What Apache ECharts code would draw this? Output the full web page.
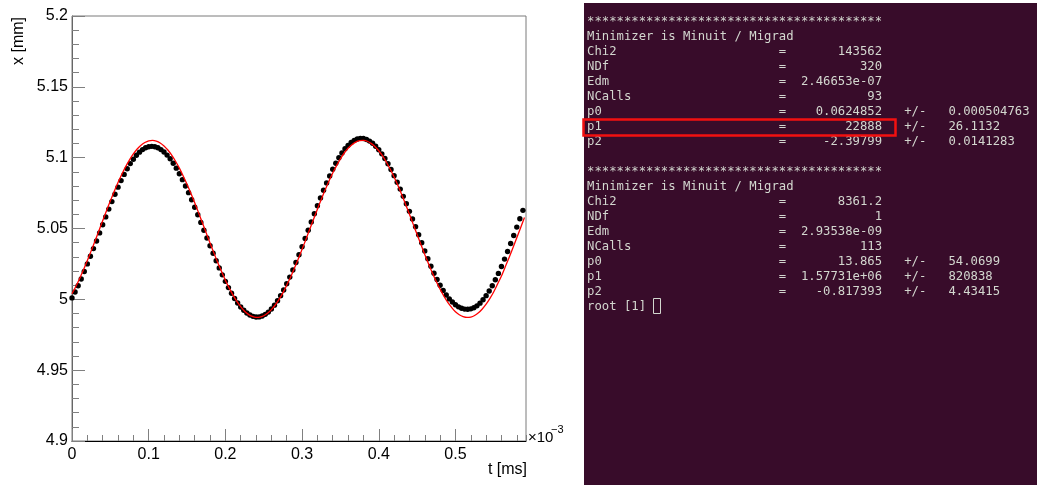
<!DOCTYPE html>
<html>
<head>
<meta charset="utf-8">
<script src="https://cdn.jsdelivr.net/npm/echarts@6/dist/echarts.min.js"></script>
<style>
  body { margin: 0; background: #fff; }
  #chart { width: 1037px; height: 485px; }
</style>
</head>
<body>
<div id="chart"></div>
<script>
// measured points: time [ms] and position [mm]
const tData = [
  0.000, 0.004, 0.008, 0.012, 0.016, 0.020, 0.024, 0.028, 0.032, 0.036,
  0.040, 0.044, 0.048, 0.052, 0.056, 0.060, 0.064, 0.068, 0.072, 0.076,
  0.080, 0.084, 0.088, 0.092, 0.096, 0.100, 0.104, 0.108, 0.112, 0.116,
  0.120, 0.124, 0.128, 0.132, 0.136, 0.140, 0.144, 0.148, 0.152, 0.156,
  0.160, 0.164, 0.168, 0.172, 0.176, 0.180, 0.184, 0.188, 0.192, 0.196,
  0.200, 0.204, 0.208, 0.212, 0.216, 0.220, 0.224, 0.228, 0.232, 0.236,
  0.240, 0.244, 0.248, 0.252, 0.256, 0.260, 0.264, 0.268, 0.272, 0.276,
  0.280, 0.284, 0.288, 0.292, 0.296, 0.300, 0.304, 0.308, 0.312, 0.316,
  0.320, 0.324, 0.328, 0.332, 0.336, 0.340, 0.344, 0.348, 0.352, 0.356,
  0.360, 0.364, 0.368, 0.372, 0.376, 0.380, 0.384, 0.388, 0.392, 0.396,
  0.400, 0.404, 0.408, 0.412, 0.416, 0.420, 0.424, 0.428, 0.432, 0.436,
  0.440, 0.444, 0.448, 0.452, 0.456, 0.460, 0.464, 0.468, 0.472, 0.476,
  0.480, 0.484, 0.488, 0.492, 0.496, 0.500, 0.504, 0.508, 0.512, 0.516,
  0.520, 0.524, 0.528, 0.532, 0.536, 0.540, 0.544, 0.548, 0.552, 0.556,
  0.560, 0.564, 0.568, 0.572, 0.576, 0.580, 0.584, 0.588
];
const xData = [
  5.0010, 5.0052, 5.0096, 5.0144, 5.0196, 5.0250, 5.0304, 5.0358, 5.0412, 5.0469,
  5.0526, 5.0582, 5.0637, 5.0690, 5.0742, 5.0792, 5.0838, 5.0882, 5.0922, 5.0958,
  5.0989, 5.1017, 5.1039, 5.1057, 5.1070, 5.1077, 5.1080, 5.1077, 5.1070, 5.1057,
  5.1040, 5.1018, 5.0992, 5.0961, 5.0926, 5.0887, 5.0845, 5.0800, 5.0753, 5.0703,
  5.0650, 5.0597, 5.0543, 5.0488, 5.0433, 5.0378, 5.0325, 5.0272, 5.0222, 5.0173,
  5.0127, 5.0083, 5.0043, 5.0006, 4.9974, 4.9946, 4.9923, 4.9904, 4.9889, 4.9880,
  4.9875, 4.9876, 4.9882, 4.9894, 4.9910, 4.9932, 4.9959, 4.9990, 5.0026, 5.0066,
  5.0110, 5.0157, 5.0207, 5.0260, 5.0315, 5.0371, 5.0429, 5.0488, 5.0546, 5.0604,
  5.0661, 5.0716, 5.0770, 5.0822, 5.0871, 5.0918, 5.0961, 5.0999, 5.1033, 5.1063,
  5.1087, 5.1107, 5.1122, 5.1132, 5.1136, 5.1135, 5.1128, 5.1117, 5.1102, 5.1081,
  5.1056, 5.1027, 5.0994, 5.0957, 5.0917, 5.0873, 5.0827, 5.0778, 5.0727, 5.0675,
  5.0621, 5.0567, 5.0513, 5.0456, 5.0399, 5.0342, 5.0287, 5.0234, 5.0184, 5.0140,
  5.0099, 5.0063, 5.0031, 5.0003, 4.9981, 4.9962, 4.9947, 4.9937, 4.9931, 4.9930,
  4.9933, 4.9941, 4.9954, 4.9973, 4.9997, 5.0026, 5.0059, 5.0096, 5.0138, 5.0183,
  5.0232, 5.0284, 5.0338, 5.0394, 5.0451, 5.0510, 5.0569, 5.0628
];

// fitted curve (red)
const fitT = [
  0.000, 0.005, 0.010, 0.015, 0.020, 0.025, 0.030, 0.035, 0.040, 0.045,
  0.050, 0.055, 0.060, 0.065, 0.070, 0.075, 0.080, 0.085, 0.090, 0.095,
  0.100, 0.105, 0.110, 0.115, 0.120, 0.125, 0.130, 0.135, 0.140, 0.145,
  0.150, 0.155, 0.160, 0.165, 0.170, 0.175, 0.180, 0.185, 0.190, 0.195,
  0.200, 0.205, 0.210, 0.215, 0.220, 0.225, 0.230, 0.235, 0.240, 0.245,
  0.250, 0.255, 0.260, 0.265, 0.270, 0.275, 0.280, 0.285, 0.290, 0.295,
  0.300, 0.305, 0.310, 0.315, 0.320, 0.325, 0.330, 0.335, 0.340, 0.345,
  0.350, 0.355, 0.360, 0.365, 0.370, 0.375, 0.380, 0.385, 0.390, 0.395,
  0.400, 0.405, 0.410, 0.415, 0.420, 0.425, 0.430, 0.435, 0.440, 0.445,
  0.450, 0.455, 0.460, 0.465, 0.470, 0.475, 0.480, 0.485, 0.490, 0.495,
  0.500, 0.505, 0.510, 0.515, 0.520, 0.525, 0.530, 0.535, 0.540, 0.545,
  0.550, 0.555, 0.560, 0.565, 0.570, 0.575, 0.580, 0.585, 0.590
];
const fitX = [
  5.0039, 5.0090, 5.0147, 5.0208, 5.0274, 5.0342, 5.0412, 5.0483, 5.0555, 5.0626,
  5.0695, 5.0761, 5.0824, 5.0883, 5.0937, 5.0985, 5.1026, 5.1061, 5.1088, 5.1107,
  5.1119, 5.1122, 5.1117, 5.1104, 5.1083, 5.1054, 5.1018, 5.0975, 5.0926, 5.0871,
  5.0812, 5.0748, 5.0681, 5.0612, 5.0541, 5.0469, 5.0398, 5.0328, 5.0260, 5.0196,
  5.0135, 5.0079, 5.0030, 4.9985, 4.9948, 4.9916, 4.9894, 4.9879, 4.9872, 4.9874,
  4.9884, 4.9901, 4.9927, 4.9960, 5.0000, 5.0046, 5.0100, 5.0156, 5.0220, 5.0284,
  5.0353, 5.0423, 5.0495, 5.0566, 5.0636, 5.0705, 5.0771, 5.0834, 5.0892, 5.0944,
  5.0992, 5.1033, 5.1066, 5.1091, 5.1110, 5.1120, 5.1122, 5.1116, 5.1101, 5.1079,
  5.1049, 5.1012, 5.0968, 5.0918, 5.0863, 5.0803, 5.0739, 5.0670, 5.0601, 5.0529,
  5.0458, 5.0387, 5.0317, 5.0250, 5.0186, 5.0126, 5.0072, 5.0022, 4.9978, 4.9943,
  4.9912, 4.9891, 4.9878, 4.9872, 4.9875, 4.9886, 4.9905, 4.9932, 4.9966, 5.0007,
  5.0054, 5.0109, 5.0165, 5.0230, 5.0295, 5.0364, 5.0435, 5.0506, 5.0577
];

// terminal output
const parNames = ['Chi2', 'NDf', 'Edm', 'NCalls', 'p0', 'p1', 'p2'];
const fit1Vals = ['143562', '320', '2.46653e-07', '93', '0.0624852', '22888', '-2.39799'];
const fit1Errs = ['', '', '', '', '0.000504763', '26.1132', '0.0141283'];
const fit2Vals = ['8361.2', '1', '2.93538e-09', '113', '13.865', '1.57731e+06', '-0.817393'];
const fit2Errs = ['', '', '', '', '54.0699', '820838', '4.43415'];

const stars = '*'.repeat(40);
function row(name, val, err) {
  let s = name.padEnd(26) + '=' + val.padStart(13);
  if (err) s += '   +/-   ' + err;
  return s;
}
const termLines = [stars, 'Minimizer is Minuit / Migrad'];
parNames.forEach((n, i) => termLines.push(row(n, fit1Vals[i], fit1Errs[i])));
termLines.push('', stars, 'Minimizer is Minuit / Migrad');
parNames.forEach((n, i) => termLines.push(row(n, fit2Vals[i], fit2Errs[i])));
termLines.push('root [1] ');

const chart = echarts.init(document.getElementById('chart'));

const plotFont = 'Liberation Sans';
const tickGray = '#808080';

const graphics = [
  { type: 'rect', shape: { x: 584, y: 3, width: 453, height: 482 }, style: { fill: '#380c2a' }, z: 0 }
];
termLines.forEach((line, i) => {
  graphics.push({
    type: 'text', x: 587, y: 22 + 15 * i, z: 5,
    style: {
      text: line, fill: '#d3d7cf', font: '12.25px "DejaVu Sans Mono"',
      align: 'left', verticalAlign: 'middle', textAlign: 'left', textVerticalAlign: 'middle'
    }
  });
});
// red highlight box around p1 and the cursor
graphics.push(
  { type: 'rect', z: 6, shape: { x: 583.5, y: 119.5, width: 312, height: 16 }, style: { fill: 'none', stroke: '#f21010', lineWidth: 2.5 } },
  { type: 'rect', z: 6, shape: { x: 653.5, y: 298.5, width: 7, height: 15 }, style: { fill: 'none', stroke: '#d3d7cf', lineWidth: 1 } },
  // axis titles
  { type: 'text', x: 19, y: 41, rotation: Math.PI / 2, z: 5,
    style: { text: 'x [mm]', fill: '#000', font: '16px "' + plotFont + '"', align: 'center', verticalAlign: 'middle', textAlign: 'center', textVerticalAlign: 'middle' } },
  { type: 'text', x: 527, y: 470, z: 5,
    style: { text: 't [ms]', fill: '#000', font: '16px "' + plotFont + '"', align: 'right', verticalAlign: 'middle', textAlign: 'right', textVerticalAlign: 'middle' } },
  { type: 'text', x: 528, y: 438, z: 5,
    style: { text: '\u00d710', fill: '#000', font: '15px "' + plotFont + '"', align: 'left', verticalAlign: 'middle', textAlign: 'left', textVerticalAlign: 'middle' } },
  { type: 'text', x: 551, y: 430, z: 5,
    style: { text: '\u22123', fill: '#000', font: '11px "' + plotFont + '"', align: 'left', verticalAlign: 'middle', textAlign: 'left', textVerticalAlign: 'middle' } }
);

function fmt(v) {
  return String(parseFloat(v.toFixed(3)));
}

const option = {
  animation: false,
  backgroundColor: '#fff',
  grid: {
    left: 72, top: 16, width: 454, height: 425,
    show: true, borderColor: '#7a7a7a', borderWidth: 1,
    containLabel: false, outerBoundsMode: 'none'
  },
  xAxis: [
    {
      type: 'value', position: 'bottom', min: 0, max: 0.592, interval: 0.1,
      axisLine: { onZero: false, lineStyle: { color: '#000', width: 1 } },
      axisTick: { inside: true, length: 12, lineStyle: { color: tickGray } },
      axisLabel: {
        margin: 6, fontSize: 16, fontFamily: plotFont, color: '#000',
        showMaxLabel: false,
        formatter: v => (Math.abs(v * 10 - Math.round(v * 10)) < 1e-6 ? fmt(v) : '')
      },
      splitLine: { show: false }
    },
    {
      type: 'value', position: 'bottom', min: 0, max: 0.592, interval: 0.02,
      axisLine: { show: false },
      axisTick: { inside: true, length: 6, lineStyle: { color: tickGray } },
      axisLabel: { show: false },
      splitLine: { show: false }
    }
  ],
  yAxis: [
    {
      type: 'value', position: 'left', min: 4.9, max: 5.2, interval: 0.05,
      axisLine: { show: true, onZero: false, lineStyle: { color: '#666', width: 1 } },
      axisTick: { show: true, inside: true, length: 13, lineStyle: { color: tickGray } },
      axisLabel: { margin: 4, fontSize: 16, fontFamily: plotFont, color: '#000', formatter: v => fmt(v) },
      splitLine: { show: false }
    },
    {
      type: 'value', position: 'left', min: 4.9, max: 5.2, interval: 0.01,
      axisLine: { show: false },
      axisTick: { show: true, inside: true, length: 7, lineStyle: { color: tickGray } },
      axisLabel: { show: false },
      splitLine: { show: false }
    }
  ],
  series: [
    {
      type: 'scatter', xAxisIndex: 0, yAxisIndex: 0,
      data: tData.map((t, i) => [t, xData[i]]),
      symbol: 'circle', symbolSize: 5.4,
      itemStyle: { color: '#000', opacity: 1 }, z: 2
    },
    {
      type: 'line', xAxisIndex: 0, yAxisIndex: 0,
      data: fitT.map((t, i) => [t, fitX[i]]),
      smooth: 0.3, showSymbol: false, symbol: 'none',
      lineStyle: { color: '#ff0000', width: 1.3 }, z: 3
    }
  ],
  graphic: graphics
};

chart.setOption(option);
</script>
</body>
</html>
